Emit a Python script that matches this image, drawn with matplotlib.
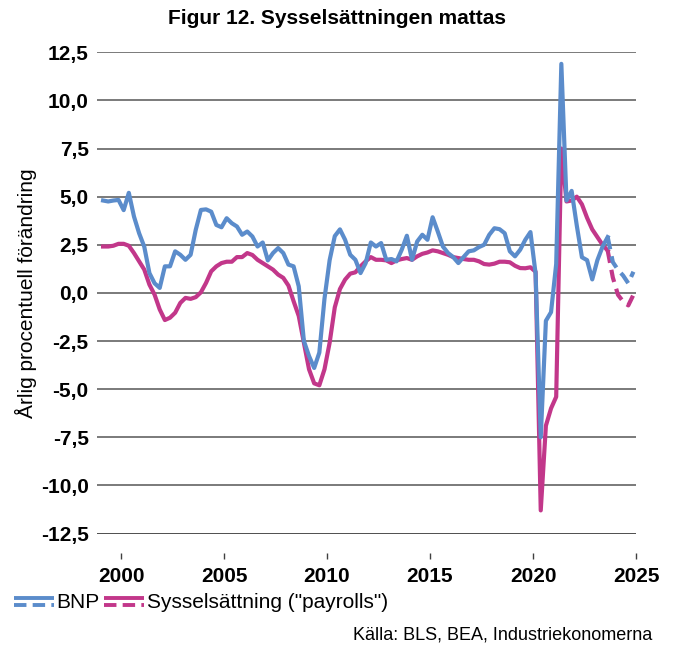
import numpy as np
import matplotlib
matplotlib.use("Agg")
import matplotlib.pyplot as plt
from matplotlib.lines import Line2D
from matplotlib.legend_handler import HandlerBase

# kvartalsdata 1999K1 - 2024K4, prognos fr.o.m. 2023K3
start_year = 1999
forecast_from = 98  # index of last actual quarter

bnp = [4.8, 4.75, 4.8, 4.83, 4.3, 5.2, 3.97, 3.1, 2.4, 1.03,
       0.5, 0.26, 1.38, 1.38, 2.16, 1.98, 1.72, 1.98, 3.28, 4.31,
       4.34, 4.22, 3.53, 3.41, 3.88, 3.62, 3.45, 3.02, 3.19, 2.93,
       2.41, 2.62, 1.69, 2.07, 2.33, 2.07, 1.47, 1.38, 0.34, -2.5,
       -3.28, -3.9, -3.1, -0.3, 1.7, 2.95, 3.3, 2.76, 1.98, 1.72,
       1.03, 1.55, 2.62, 2.41, 2.59, 1.72, 1.76, 1.64, 2.24, 2.97,
       1.72, 2.67, 3.02, 2.76, 3.93, 3.19, 2.41, 2.07, 1.86, 1.55,
       1.86, 2.16, 2.21, 2.38, 2.5, 3.02, 3.36, 3.31, 3.1, 2.16,
       1.9, 2.24, 2.76, 3.16, 1.0, -7.5, -1.45, -1.0, 1.5, 11.9,
       4.8, 5.3, 3.5, 1.85, 1.7, 0.7, 1.7, 2.4, 2.9, 1.6,
       1.2, 0.9, 0.5, 1.1]

payrolls = [2.41, 2.41, 2.45, 2.55, 2.55, 2.45, 2.07, 1.64, 1.21, 0.43,
            -0.09, -0.86, -1.41, -1.29, -1.03, -0.52, -0.26, -0.31, -0.22, 0.03,
            0.52, 1.12, 1.38, 1.55, 1.62, 1.62, 1.86, 1.86, 2.07, 1.97,
            1.72, 1.55, 1.38, 1.21, 0.95, 0.78, 0.38, -0.43, -1.2, -2.59,
            -3.97, -4.7, -4.8, -3.97, -2.59, -0.75, 0.2, 0.69, 1.0, 1.07,
            1.38, 1.64, 1.86, 1.72, 1.72, 1.69, 1.55, 1.69, 1.76, 1.81,
            1.72, 1.9, 2.03, 2.1, 2.21, 2.16, 2.07, 1.98, 1.86, 1.81,
            1.76, 1.72, 1.72, 1.64, 1.5, 1.47, 1.52, 1.62, 1.62, 1.59,
            1.41, 1.29, 1.28, 1.33, 1.1, -11.3, -6.9, -6.0, -5.4, 7.5,
            4.75, 4.8, 5.0, 4.6, 3.9, 3.3, 2.9, 2.5, 2.2, 0.8,
            -0.1, -0.45, -0.65, -0.1]

y_ticks = [12.5, 10.0, 7.5, 5.0, 2.5, 0.0, -2.5, -5.0, -7.5, -10.0, -12.5]
x_ticks = [2000, 2005, 2010, 2015, 2020, 2025]

BLUE = "#5B8CCB"
PINK = "#C2378A"

plt.rcParams['font.family'] = ['Liberation Sans', 'DejaVu Sans']


class SolidDashHandler(HandlerBase):
    # solid line on top, dashed below (Excel-style legend key)
    def create_artists(self, legend, orig_handle, xdescent, ydescent,
                       width, height, fontsize, trans):
        c = orig_handle.get_color()
        y0 = -ydescent + height / 2
        x0, x1 = -xdescent, -xdescent + width
        top = Line2D([x0, x1], [y0 + 2.6, y0 + 2.6], color=c, lw=2.8,
                     solid_capstyle='butt', transform=trans)
        bot = Line2D([x0, x1], [y0 - 2.6, y0 - 2.6], color=c, lw=2.8,
                     dashes=(3.2, 1.6), dash_capstyle='butt', transform=trans)
        return [top, bot]


t = start_year + (np.arange(len(bnp)) + 0.5) / 4
bnp = np.array(bnp)
payrolls = np.array(payrolls)
f = forecast_from

fig = plt.figure(figsize=(6.73, 6.45), dpi=100)
ax = fig.add_axes([97 / 673, 1 - 533.5 / 645, (636 - 97) / 673, (533.5 - 52.3) / 645])

for v in y_ticks:
    ax.axhline(v, color="#707070" if v != -12.5 else "#404040", lw=1.3, zorder=1)

ax.plot(t[:f + 1], payrolls[:f + 1], color=PINK, lw=3, zorder=3, solid_joinstyle='round')
ax.plot(t[f:], payrolls[f:], color=PINK, lw=3, dashes=(3, 1.7), zorder=3)
ax.plot(t[:f + 1], bnp[:f + 1], color=BLUE, lw=3, zorder=4, solid_joinstyle='round')
ax.plot(t[f:], bnp[f:], color=BLUE, lw=3, dashes=(3, 1.7), zorder=4)

ax.set_xlim(1998.83, 2025.0)
ax.set_ylim(-12.5, 12.5)

for s in ['top', 'right', 'left']:
    ax.spines[s].set_visible(False)
ax.spines['bottom'].set_position(('outward', 14))
ax.spines['bottom'].set_visible(False)

# tick labels after moving the spine (it resets the ticks)
ax.set_yticks(y_ticks)
ax.set_yticklabels([f"{v:.1f}".replace('.', ',') for v in y_ticks],
                   fontsize=15, fontweight='bold')
ax.set_xticks(x_ticks)
ax.set_xticklabels([str(x) for x in x_ticks], fontsize=15, fontweight='bold')
ax.tick_params(axis='y', length=0, pad=6)
ax.tick_params(axis='x', length=4, width=1, color="#404040", pad=6, direction='out')

ax.set_ylabel("Årlig procentuell förändring", fontsize=15, labelpad=3)

fig.text(0.5, 1 - 18 / 645, "Figur 12. Sysselsättningen mattas",
         ha='center', va='center', fontsize=15, fontweight='bold')

h1 = Line2D([], [], color=BLUE)
h2 = Line2D([], [], color=PINK)
fig.legend([h1, h2], ["BNP", 'Sysselsättning ("payrolls")'],
           handler_map={Line2D: SolidDashHandler()},
           loc='center left', bbox_to_anchor=(14 / 673, 1 - 603 / 645),
           ncol=2, frameon=False, fontsize=15, handlelength=1.9,
           handletextpad=0.15, columnspacing=0.2, borderpad=0, borderaxespad=0)

fig.text(652 / 673, 1 - 635 / 645, "Källa: BLS, BEA, Industriekonomerna",
         ha='right', va='center', fontsize=13)

fig.savefig("out.png", dpi=100)
